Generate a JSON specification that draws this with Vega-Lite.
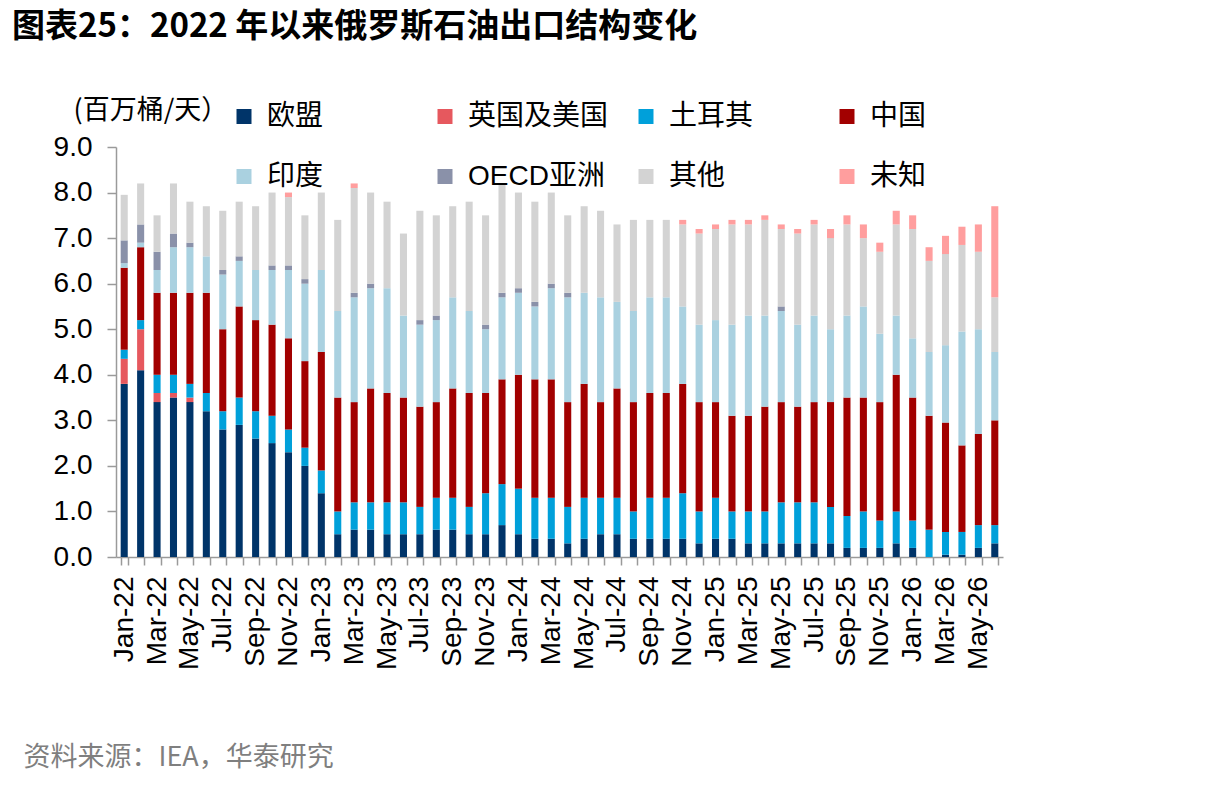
{
  "$schema": "https://vega.github.io/schema/vega-lite/v6.json",
  "autosize": "none",
  "width": 887,
  "height": 410,
  "padding": {"left": 116, "top": 147, "right": 203, "bottom": 230},
  "background": "white",
  "title": {
    "text": "图表25：2022 年以来俄罗斯石油出口结构变化",
    "anchor": "start",
    "frame": "group",
    "dx": -104,
    "offset": 52,
    "font": "Noto Sans CJK SC",
    "fontSize": 33,
    "fontWeight": "bold",
    "color": "#000000"
  },
  "datasets": {
    "ord": [
      {"s": "欧盟", "k": 1},
      {"s": "英国及美国", "k": 2},
      {"s": "土耳其", "k": 3},
      {"s": "中国", "k": 4},
      {"s": "印度", "k": 5},
      {"s": "OECD亚洲", "k": 6},
      {"s": "其他", "k": 7},
      {"s": "未知", "k": 8}
    ]
  },
  "data": {
    "values": [
      {"m": "Jan-22", "欧盟": 3.8, "英国及美国": 0.55, "土耳其": 0.2, "中国": 1.8, "印度": 0.1, "OECD亚洲": 0.5, "其他": 1.0, "未知": 0},
      {"m": "Feb-22", "欧盟": 4.1, "英国及美国": 0.9, "土耳其": 0.2, "中国": 1.6, "印度": 0.1, "OECD亚洲": 0.4, "其他": 0.9, "未知": 0},
      {"m": "Mar-22", "欧盟": 3.4, "英国及美国": 0.2, "土耳其": 0.4, "中国": 1.8, "印度": 0.5, "OECD亚洲": 0.4, "其他": 0.8, "未知": 0},
      {"m": "Apr-22", "欧盟": 3.5, "英国及美国": 0.1, "土耳其": 0.4, "中国": 1.8, "印度": 1.0, "OECD亚洲": 0.3, "其他": 1.1, "未知": 0},
      {"m": "May-22", "欧盟": 3.4, "英国及美国": 0.1, "土耳其": 0.3, "中国": 2.0, "印度": 1.0, "OECD亚洲": 0.1, "其他": 0.9, "未知": 0},
      {"m": "Jun-22", "欧盟": 3.2, "英国及美国": 0, "土耳其": 0.4, "中国": 2.2, "印度": 0.8, "OECD亚洲": 0, "其他": 1.1, "未知": 0},
      {"m": "Jul-22", "欧盟": 2.8, "英国及美国": 0, "土耳其": 0.4, "中国": 1.8, "印度": 1.2, "OECD亚洲": 0.1, "其他": 1.3, "未知": 0},
      {"m": "Aug-22", "欧盟": 2.9, "英国及美国": 0, "土耳其": 0.6, "中国": 2.0, "印度": 1.0, "OECD亚洲": 0.1, "其他": 1.2, "未知": 0},
      {"m": "Sep-22", "欧盟": 2.6, "英国及美国": 0, "土耳其": 0.6, "中国": 2.0, "印度": 1.1, "OECD亚洲": 0, "其他": 1.4, "未知": 0},
      {"m": "Oct-22", "欧盟": 2.5, "英国及美国": 0, "土耳其": 0.6, "中国": 2.0, "印度": 1.2, "OECD亚洲": 0.1, "其他": 1.6, "未知": 0},
      {"m": "Nov-22", "欧盟": 2.3, "英国及美国": 0, "土耳其": 0.5, "中国": 2.0, "印度": 1.5, "OECD亚洲": 0.1, "其他": 1.5, "未知": 0.1},
      {"m": "Dec-22", "欧盟": 2.0, "英国及美国": 0, "土耳其": 0.4, "中国": 1.9, "印度": 1.7, "OECD亚洲": 0.1, "其他": 1.4, "未知": 0},
      {"m": "Jan-23", "欧盟": 1.4, "英国及美国": 0, "土耳其": 0.5, "中国": 2.6, "印度": 1.8, "OECD亚洲": 0, "其他": 1.7, "未知": 0},
      {"m": "Feb-23", "欧盟": 0.5, "英国及美国": 0, "土耳其": 0.5, "中国": 2.5, "印度": 1.9, "OECD亚洲": 0, "其他": 2.0, "未知": 0},
      {"m": "Mar-23", "欧盟": 0.6, "英国及美国": 0, "土耳其": 0.6, "中国": 2.2, "印度": 2.3, "OECD亚洲": 0.1, "其他": 2.3, "未知": 0.1},
      {"m": "Apr-23", "欧盟": 0.6, "英国及美国": 0, "土耳其": 0.6, "中国": 2.5, "印度": 2.2, "OECD亚洲": 0.1, "其他": 2.0, "未知": 0},
      {"m": "May-23", "欧盟": 0.5, "英国及美国": 0, "土耳其": 0.7, "中国": 2.4, "印度": 2.3, "OECD亚洲": 0, "其他": 1.9, "未知": 0},
      {"m": "Jun-23", "欧盟": 0.5, "英国及美国": 0, "土耳其": 0.7, "中国": 2.3, "印度": 1.8, "OECD亚洲": 0, "其他": 1.8, "未知": 0},
      {"m": "Jul-23", "欧盟": 0.5, "英国及美国": 0, "土耳其": 0.6, "中国": 2.2, "印度": 1.8, "OECD亚洲": 0.1, "其他": 2.4, "未知": 0},
      {"m": "Aug-23", "欧盟": 0.6, "英国及美国": 0, "土耳其": 0.7, "中国": 2.1, "印度": 1.8, "OECD亚洲": 0.1, "其他": 2.2, "未知": 0},
      {"m": "Sep-23", "欧盟": 0.6, "英国及美国": 0, "土耳其": 0.7, "中国": 2.4, "印度": 2.0, "OECD亚洲": 0, "其他": 2.0, "未知": 0},
      {"m": "Oct-23", "欧盟": 0.5, "英国及美国": 0, "土耳其": 0.6, "中国": 2.5, "印度": 1.8, "OECD亚洲": 0, "其他": 2.4, "未知": 0},
      {"m": "Nov-23", "欧盟": 0.5, "英国及美国": 0, "土耳其": 0.9, "中国": 2.2, "印度": 1.4, "OECD亚洲": 0.1, "其他": 2.4, "未知": 0},
      {"m": "Dec-23", "欧盟": 0.7, "英国及美国": 0, "土耳其": 0.9, "中国": 2.3, "印度": 1.8, "OECD亚洲": 0.1, "其他": 2.4, "未知": 0},
      {"m": "Jan-24", "欧盟": 0.5, "英国及美国": 0, "土耳其": 1.0, "中国": 2.5, "印度": 1.8, "OECD亚洲": 0.1, "其他": 2.1, "未知": 0},
      {"m": "Feb-24", "欧盟": 0.4, "英国及美国": 0, "土耳其": 0.9, "中国": 2.6, "印度": 1.6, "OECD亚洲": 0.1, "其他": 2.2, "未知": 0},
      {"m": "Mar-24", "欧盟": 0.4, "英国及美国": 0, "土耳其": 0.9, "中国": 2.6, "印度": 2.0, "OECD亚洲": 0.1, "其他": 2.0, "未知": 0},
      {"m": "Apr-24", "欧盟": 0.3, "英国及美国": 0, "土耳其": 0.8, "中国": 2.3, "印度": 2.3, "OECD亚洲": 0.1, "其他": 1.7, "未知": 0},
      {"m": "May-24", "欧盟": 0.4, "英国及美国": 0, "土耳其": 0.9, "中国": 2.5, "印度": 2.0, "OECD亚洲": 0, "其他": 1.9, "未知": 0},
      {"m": "Jun-24", "欧盟": 0.5, "英国及美国": 0, "土耳其": 0.8, "中国": 2.1, "印度": 2.3, "OECD亚洲": 0, "其他": 1.9, "未知": 0},
      {"m": "Jul-24", "欧盟": 0.5, "英国及美国": 0, "土耳其": 0.8, "中国": 2.4, "印度": 1.9, "OECD亚洲": 0, "其他": 1.7, "未知": 0},
      {"m": "Aug-24", "欧盟": 0.4, "英国及美国": 0, "土耳其": 0.6, "中国": 2.4, "印度": 2.0, "OECD亚洲": 0, "其他": 2.0, "未知": 0},
      {"m": "Sep-24", "欧盟": 0.4, "英国及美国": 0, "土耳其": 0.9, "中国": 2.3, "印度": 2.1, "OECD亚洲": 0, "其他": 1.7, "未知": 0},
      {"m": "Oct-24", "欧盟": 0.4, "英国及美国": 0, "土耳其": 0.9, "中国": 2.3, "印度": 2.1, "OECD亚洲": 0, "其他": 1.7, "未知": 0},
      {"m": "Nov-24", "欧盟": 0.4, "英国及美国": 0, "土耳其": 1.0, "中国": 2.4, "印度": 1.7, "OECD亚洲": 0, "其他": 1.8, "未知": 0.1},
      {"m": "Dec-24", "欧盟": 0.3, "英国及美国": 0, "土耳其": 0.7, "中国": 2.4, "印度": 1.7, "OECD亚洲": 0, "其他": 2.0, "未知": 0.1},
      {"m": "Jan-25", "欧盟": 0.4, "英国及美国": 0, "土耳其": 0.9, "中国": 2.1, "印度": 1.8, "OECD亚洲": 0, "其他": 2.0, "未知": 0.1},
      {"m": "Feb-25", "欧盟": 0.4, "英国及美国": 0, "土耳其": 0.6, "中国": 2.1, "印度": 2.0, "OECD亚洲": 0, "其他": 2.2, "未知": 0.1},
      {"m": "Mar-25", "欧盟": 0.3, "英国及美国": 0, "土耳其": 0.7, "中国": 2.1, "印度": 2.2, "OECD亚洲": 0, "其他": 2.0, "未知": 0.1},
      {"m": "Apr-25", "欧盟": 0.3, "英国及美国": 0, "土耳其": 0.7, "中国": 2.3, "印度": 2.0, "OECD亚洲": 0, "其他": 2.1, "未知": 0.1},
      {"m": "May-25", "欧盟": 0.3, "英国及美国": 0, "土耳其": 0.9, "中国": 2.2, "印度": 2.0, "OECD亚洲": 0.1, "其他": 1.7, "未知": 0.1},
      {"m": "Jun-25", "欧盟": 0.3, "英国及美国": 0, "土耳其": 0.9, "中国": 2.1, "印度": 1.8, "OECD亚洲": 0, "其他": 2.0, "未知": 0.1},
      {"m": "Jul-25", "欧盟": 0.3, "英国及美国": 0, "土耳其": 0.9, "中国": 2.2, "印度": 1.9, "OECD亚洲": 0, "其他": 2.0, "未知": 0.1},
      {"m": "Aug-25", "欧盟": 0.3, "英国及美国": 0, "土耳其": 0.8, "中国": 2.3, "印度": 1.6, "OECD亚洲": 0, "其他": 2.0, "未知": 0.2},
      {"m": "Sep-25", "欧盟": 0.2, "英国及美国": 0, "土耳其": 0.7, "中国": 2.6, "印度": 1.8, "OECD亚洲": 0, "其他": 2.0, "未知": 0.2},
      {"m": "Oct-25", "欧盟": 0.2, "英国及美国": 0, "土耳其": 0.8, "中国": 2.5, "印度": 2.0, "OECD亚洲": 0, "其他": 1.5, "未知": 0.3},
      {"m": "Nov-25", "欧盟": 0.2, "英国及美国": 0, "土耳其": 0.6, "中国": 2.6, "印度": 1.5, "OECD亚洲": 0, "其他": 1.8, "未知": 0.2},
      {"m": "Dec-25", "欧盟": 0.3, "英国及美国": 0, "土耳其": 0.7, "中国": 3.0, "印度": 1.3, "OECD亚洲": 0, "其他": 2.0, "未知": 0.3},
      {"m": "Jan-26", "欧盟": 0.2, "英国及美国": 0, "土耳其": 0.6, "中国": 2.7, "印度": 1.3, "OECD亚洲": 0, "其他": 2.4, "未知": 0.3},
      {"m": "Feb-26", "欧盟": 0, "英国及美国": 0, "土耳其": 0.6, "中国": 2.5, "印度": 1.4, "OECD亚洲": 0, "其他": 2.0, "未知": 0.3},
      {"m": "Mar-26", "欧盟": 0.05, "英国及美国": 0, "土耳其": 0.5, "中国": 2.4, "印度": 1.7, "OECD亚洲": 0, "其他": 2.0, "未知": 0.4},
      {"m": "Apr-26", "欧盟": 0.05, "英国及美国": 0, "土耳其": 0.5, "中国": 1.9, "印度": 2.5, "OECD亚洲": 0, "其他": 1.9, "未知": 0.4},
      {"m": "May-26", "欧盟": 0.2, "英国及美国": 0, "土耳其": 0.5, "中国": 2.0, "印度": 2.3, "OECD亚洲": 0, "其他": 1.7, "未知": 0.6},
      {"m": "Jun-26", "欧盟": 0.3, "英国及美国": 0, "土耳其": 0.4, "中国": 2.3, "印度": 1.5, "OECD亚洲": 0, "其他": 1.2, "未知": 2.0}
    ]
  },
  "transform": [
    {"fold": ["欧盟", "英国及美国", "土耳其", "中国", "印度", "OECD亚洲", "其他", "未知"], "as": ["s", "v"]},
    {"lookup": "s", "from": {"data": {"name": "ord"}, "key": "s", "fields": ["k"]}}
  ],
  "mark": {"type": "bar"},
  "encoding": {
    "x": {
      "field": "m",
      "type": "nominal",
      "sort": null,
      "scale": {"paddingInner": 0.57, "paddingOuter": 0.285},
      "axis": {
        "title": "资料来源：IEA，华泰研究",
        "titleX": -93,
        "titleY": 200,
        "titleAlign": "left",
        "titleAnchor": "start",
        "titleBaseline": "middle",
        "titleFont": "Noto Sans CJK SC",
        "titleFontSize": 27,
        "titleFontWeight": "normal",
        "titleColor": "#7f7f7f",
        "labelAngle": -90,
        "labelFont": "Liberation Sans",
        "labelFontSize": 28,
        "labelColor": "#000000",
        "labelPadding": 11,
        "labelOverlap": false,
        "labelExpr": "indexof(['Jan','Mar','May','Jul','Sep','Nov'], slice(datum.label, 0, 3)) >= 0 ? datum.label : ''",
        "tickBand": "extent",
        "tickSize": 8,
        "tickColor": "#9a9a9a",
        "tickWidth": 1.5,
        "domainColor": "#9a9a9a",
        "domainWidth": 1.5
      }
    },
    "y": {
      "field": "v",
      "type": "quantitative",
      "stack": "zero",
      "scale": {"domain": [0, 9], "nice": false},
      "axis": {
        "title": "(百万桶/天）",
        "titleAngle": 0,
        "titleX": -43,
        "titleY": -37,
        "titleAlign": "left",
        "titleBaseline": "middle",
        "titleFont": "Noto Sans CJK SC",
        "titleFontSize": 27,
        "titleFontWeight": "normal",
        "titleColor": "#000000",
        "values": [0, 1, 2, 3, 4, 5, 6, 7, 8, 9],
        "format": ".1f",
        "grid": false,
        "labelFont": "Liberation Sans",
        "labelFontSize": 28,
        "labelColor": "#000000",
        "labelPadding": 15,
        "tickSize": 9,
        "tickColor": "#9a9a9a",
        "tickWidth": 1.5,
        "domainColor": "#9a9a9a",
        "domainWidth": 1.5
      }
    },
    "color": {
      "field": "s",
      "type": "nominal",
      "sort": ["欧盟", "英国及美国", "土耳其", "中国", "印度", "OECD亚洲", "其他", "未知"],
      "scale": {
        "domain": ["欧盟", "英国及美国", "土耳其", "中国", "印度", "OECD亚洲", "其他", "未知"],
        "range": ["#003469", "#E6585E", "#00A0DA", "#A20000", "#AAD1E0", "#8A91A9", "#D3D3D3", "#FF9E9E"]
      },
      "legend": {
        "title": null,
        "orient": "none",
        "legendX": 114,
        "legendY": -44.5,
        "direction": "horizontal",
        "columns": 4,
        "gridAlign": "all",
        "columnPadding": 23,
        "rowPadding": 32,
        "symbolType": "square",
        "symbolSize": 225,
        "symbolStrokeWidth": 0,
        "labelOffset": 9,
        "labelFont": "Liberation Sans, Noto Sans CJK SC",
        "labelFontSize": 28,
        "labelColor": "#000000",
        "labelLimit": 300
      }
    },
    "order": {"field": "k", "type": "quantitative", "sort": "ascending"}
  },
  "config": {
    "view": {"stroke": null}
  }
}
